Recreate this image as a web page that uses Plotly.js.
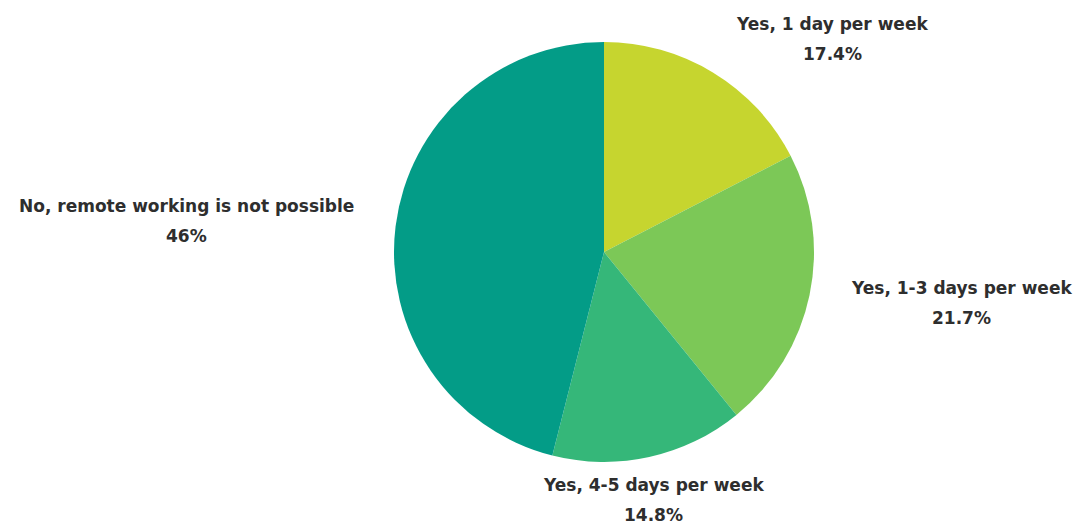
<!DOCTYPE html>
<html>
<head>
<meta charset="utf-8">
<script src="https://cdn.plot.ly/plotly-3.0.1.min.js"></script>
<style>html,body{margin:0;padding:0;background:#fff;}#chart{width:1081px;height:529px;}</style>
</head>
<body>
<div id="chart"></div>
<script>
// Data
var labels = ["Yes, 1 day per week", "Yes, 1-3 days per week", "Yes, 4-5 days per week", "No, remote working is not possible"];
var values = [17.4, 21.7, 14.8, 46];
var valueText = ["17.4%", "21.7%", "14.8%", "46%"];
var colors = ["#c6d52f", "#7cc857", "#35b779", "#039c87"];

// Layout geometry (style)
var W = 1081, H = 529;
var cx = 604, cy = 252, R = 210;
var sideGap = 40, vertGap = 18, lineHalf = 15;
var font = {family: "'DejaVu Sans', sans-serif", size: 17, color: "#2e2e2e", weight: "bold"};

var total = values.reduce(function (a, b) { return a + b; }, 0);
var annotations = [];
var cum = 0;
for (var i = 0; i < values.length; i++) {
  var mid = (cum + values[i] / 2) / total * 2 * Math.PI; // clockwise from top
  cum += values[i];
  var s = Math.sin(mid), c = Math.cos(mid);
  var px, py, xa;
  if (Math.abs(s) > 0.4) {
    var d = R + sideGap;
    px = cx + d * s; py = cy - d * c;
    xa = s > 0 ? "left" : "right";
  } else {
    var d2 = R + vertGap;
    px = cx + d2 * s;
    xa = "center";
    py = (c < 0) ? cy - d2 * c + lineHalf + 10 : cy - d2 * c - lineHalf - 10;
  }
  var xp = px / W;
  annotations.push({
    xref: "paper", yref: "paper", x: xp, y: 1 - (py - lineHalf) / H,
    xanchor: xa, yanchor: "middle", showarrow: false,
    text: labels[i], font: font
  });
  annotations.push({
    xref: "paper", yref: "paper", x: xp, y: 1 - (py + lineHalf) / H,
    xanchor: xa, yanchor: "middle", showarrow: false,
    text: valueText[i], font: font,
    xshift: 0
  });
}

var trace = {
  type: "pie",
  labels: labels,
  values: values,
  sort: false,
  direction: "clockwise",
  rotation: 0,
  textinfo: "none",
  hoverinfo: "label+percent",
  marker: {colors: colors, line: {width: 0}},
  domain: {x: [(cx - R) / W, (cx + R) / W], y: [1 - (cy + R) / H, 1 - (cy - R) / H]},
  showlegend: false
};

var layout = {
  width: W, height: H,
  margin: {l: 0, r: 0, t: 0, b: 0},
  paper_bgcolor: "#ffffff",
  showlegend: false,
  annotations: annotations
};

Plotly.newPlot("chart", [trace], layout, {displayModeBar: false, staticPlot: true}).then(function (gd) {
  var anns = gd.layout.annotations;
  var nodes = gd.querySelectorAll(".annotation");
  var updates = {};
  for (var k = 0; k < anns.length; k += 2) {
    if (anns[k].xanchor === "center") continue;
    var lw = nodes[k].querySelector(".annotation-text").getBBox().width;
    var vw = nodes[k + 1].querySelector(".annotation-text").getBBox().width;
    var shift = (lw - vw) / 2;
    updates["annotations[" + (k + 1) + "].xshift"] = anns[k].xanchor === "left" ? shift : -shift;
  }
  return Plotly.relayout(gd, updates);
});
</script>
</body>
</html>
